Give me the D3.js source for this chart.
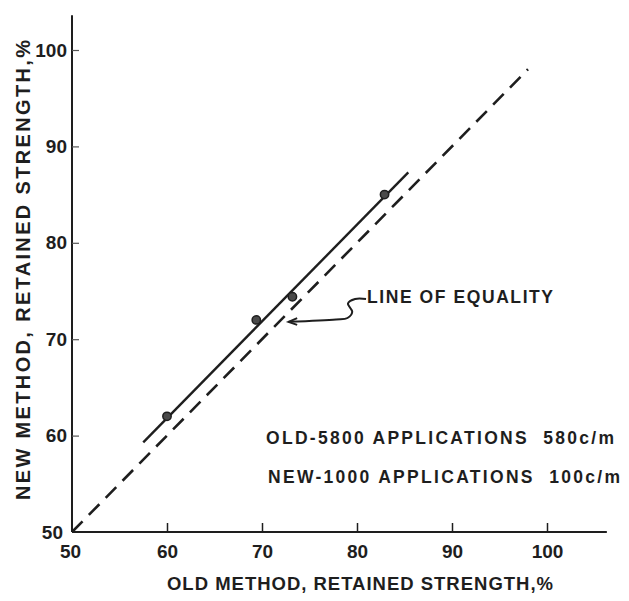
<!DOCTYPE html>
<html>
<head>
<meta charset="utf-8">
<script src="https://cdn.jsdelivr.net/npm/d3@7"></script>
<style>
  html, body { margin: 0; padding: 0; background: #fff; }
  svg { display: block; }
  text { font-family: "Liberation Sans", Arial, Helvetica, sans-serif; font-weight: bold; fill: #1e1e1e; }
  .pre { white-space: pre; }
</style>
</head>
<body>
<svg id="chart" width="629" height="601"></svg>
<script>
// ---- data ----
const oldMethod = [60, 69.4, 73.2, 82.9];          // x values (%)
const newMethod = [62, 72, 74.4, 85];              // y values (%)
const fitX = [57.5, 85.4];                          // regression line ends (old)
const fitY = [59.3, 87.3];                          // regression line ends (new)
const equalityLine = [50, 98];                      // line of equality
const xTicks = [50, 60, 70, 80, 90, 100];
const yTicks = [50, 60, 70, 80, 90, 100];
const xTitle = "OLD METHOD, RETAINED STRENGTH,%";
const yTitle = "NEW METHOD, RETAINED STRENGTH,%";
const annotationLabel = "LINE OF EQUALITY";
const legendLines = ["OLD-5800 APPLICATIONS  580c/m", "NEW-1000 APPLICATIONS  100c/m"];
// annotation connector in data units
const connectorX = [80.95, 79.8, 79.05, 79.5, 79.0, 77.8, 72.8];
const connectorY = [74.17, 74.17, 73.7, 72.85, 72.2, 72.05, 71.8];

const svg = d3.select("#chart");
const x = d3.scaleLinear().domain([50, 100]).range([72, 547]);
const y = d3.scaleLinear().domain([50, 100]).range([532, 50]);
const ink = "#1e1e1e";

// axis lines
svg.append("line").attr("x1", x(50)).attr("x2", x(106.3)).attr("y1", y(50)).attr("y2", y(50))
  .attr("stroke", ink).attr("stroke-width", 2);
svg.append("line").attr("x1", x(50)).attr("x2", x(50)).attr("y1", y(50)).attr("y2", y(103.6))
  .attr("stroke", ink).attr("stroke-width", 2);

// x axis ticks
const gx = svg.append("g").attr("transform", `translate(0,${y(50)})`)
  .call(d3.axisBottom(x).tickValues(xTicks).tickSizeInner(-9).tickSizeOuter(0).tickPadding(13).tickFormat(d3.format("d")));
gx.select(".domain").remove();
gx.selectAll(".tick line").attr("stroke", ink).attr("stroke-width", 1.5)
  .filter(d => d === 50).remove();
gx.selectAll(".tick text").attr("font-size", 19).attr("fill", ink)
  .attr("font-family", "Liberation Sans, Arial, sans-serif").attr("font-weight", "bold");
gx.selectAll(".tick text").filter(d => d === 50).attr("dx", -2);

// y axis ticks
const gy = svg.append("g").attr("transform", `translate(${x(50)},0)`)
  .call(d3.axisLeft(y).tickValues(yTicks).tickSizeInner(-7).tickSizeOuter(0).tickPadding(5).tickFormat(d3.format("d")));
gy.select(".domain").remove();
gy.selectAll(".tick line").attr("stroke", "#555").attr("stroke-width", 1.2)
  .filter(d => d === 50).remove();
gy.selectAll(".tick text").attr("font-size", 19).attr("fill", ink)
  .attr("font-family", "Liberation Sans, Arial, sans-serif").attr("font-weight", "bold");
gy.selectAll(".tick text").filter(d => d === 50).attr("dx", -4);

// line of equality (dashed)
svg.append("path")
  .datum(equalityLine)
  .attr("d", d3.line().x(d => x(d)).y(d => y(d)))
  .attr("fill", "none").attr("stroke", ink).attr("stroke-width", 2.6)
  .attr("stroke-dasharray", "15,9");

// fitted line
svg.append("path")
  .datum(d3.zip(fitX, fitY))
  .attr("d", d3.line().x(d => x(d[0])).y(d => y(d[1])))
  .attr("fill", "none").attr("stroke", ink).attr("stroke-width", 2.4);

// points
svg.selectAll(".pt").data(d3.zip(oldMethod, newMethod)).enter()
  .append("path").attr("class", "pt")
  .attr("transform", d => `translate(${x(d[0])},${y(d[1])})`)
  .attr("d", d3.symbol().type(d3.symbolCircle).size(55))
  .attr("fill", "#4a4a4a").attr("stroke", ink).attr("stroke-width", 1.5);

// annotation connector + arrow
const conn = d3.zip(connectorX, connectorY);
svg.append("path").datum(conn)
  .attr("d", d3.line().x(d => x(d[0])).y(d => y(d[1])).curve(d3.curveCatmullRom))
  .attr("fill", "none").attr("stroke", ink).attr("stroke-width", 2);
const tip = conn[conn.length - 1];
svg.append("path")
  .datum([[tip[0] + 0.9, tip[1] + 0.38], tip, [tip[0] + 0.9, tip[1] - 0.32]])
  .attr("d", d3.line().x(d => x(d[0])).y(d => y(d[1])))
  .attr("fill", "none").attr("stroke", ink).attr("stroke-width", 2);

svg.append("text").attr("x", x(connectorX[0]) + 1).attr("y", y(connectorY[0]) + 4)
  .attr("font-size", 17.5).text(annotationLabel)
  .attr("textLength", 186).attr("lengthAdjust", "spacing");

// legend text
svg.append("text").attr("class", "pre").attr("x", 266).attr("y", 444).attr("font-size", 17.5)
  .attr("textLength", 348).attr("lengthAdjust", "spacing").text(legendLines[0]);
svg.append("text").attr("class", "pre").attr("x", 268).attr("y", 483).attr("font-size", 17.5)
  .attr("textLength", 352).attr("lengthAdjust", "spacing").text(legendLines[1]);

// axis titles
svg.append("text").attr("x", 167).attr("y", 590).attr("font-size", 18.5)
  .attr("textLength", 386).attr("lengthAdjust", "spacing").text(xTitle);
svg.append("text").attr("transform", "translate(30,500) rotate(-90)").attr("x", 0).attr("y", 0)
  .attr("font-size", 20).attr("textLength", 460).attr("lengthAdjust", "spacing").text(yTitle);
</script>
</body>
</html>
